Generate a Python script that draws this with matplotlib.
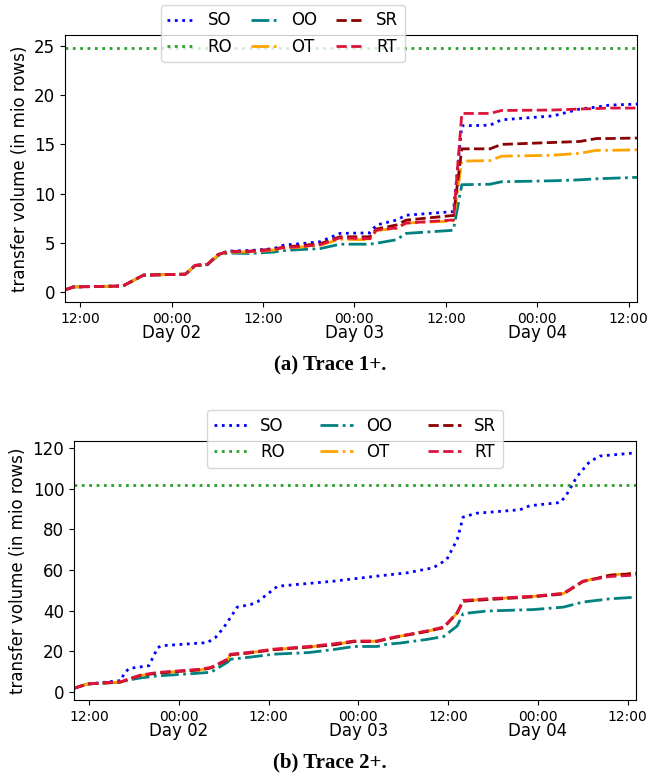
import numpy as np
import matplotlib
matplotlib.use("Agg")
import matplotlib.pyplot as plt
import matplotlib.dates as mdates

# hours since Day 01 00:00
hours_a = [10.0, 11.1, 17.6, 20.3, 25.8, 27.1, 28.7, 30.1, 31.4, 34.3, 37.4,
           38.7, 40.9, 43.5, 46.1, 50.0, 50.9, 53.5, 54.8, 60.7, 61.0, 62.1,
           65.8, 67.3, 74.1, 77.6, 79.8, 81.5, 85.1]
so_a = [0.2, 0.5, 0.6, 1.7, 1.8, 2.7, 2.8, 3.8, 4.15, 4.2, 4.4, 4.75, 4.9,
        5.1, 5.95, 6.0, 6.8, 7.3, 7.8, 8.15, 8.2, 16.9, 16.95, 17.5, 17.9,
        18.6, 18.8, 19.0, 19.1]
oo_a = [0.2, 0.5, 0.6, 1.7, 1.8, 2.65, 2.75, 3.7, 3.95, 3.9, 4.05, 4.2, 4.3,
        4.4, 4.85, 4.85, 4.95, 5.3, 5.95, 6.25, 6.3, 10.9, 10.95, 11.2, 11.3,
        11.4, 11.5, 11.55, 11.65]
ot_a = [0.2, 0.5, 0.6, 1.7, 1.8, 2.7, 2.8, 3.75, 4.05, 4.05, 4.25, 4.45,
        4.55, 4.75, 5.35, 5.3, 6.25, 6.45, 7.0, 7.2, 7.25, 13.3, 13.35, 13.8,
        13.9, 14.1, 14.4, 14.4, 14.45]
sr_a = [0.2, 0.5, 0.6, 1.7, 1.8, 2.7, 2.8, 3.8, 4.1, 4.15, 4.35, 4.55, 4.7,
        4.9, 5.6, 5.6, 6.4, 6.8, 7.3, 7.75, 7.75, 14.55, 14.55, 15.0, 15.2,
        15.3, 15.6, 15.6, 15.65]
rt_a = [0.2, 0.5, 0.6, 1.7, 1.8, 2.7, 2.8, 3.8, 4.1, 4.1, 4.3, 4.5, 4.6,
        4.8, 5.5, 5.4, 6.3, 6.5, 7.0, 7.3, 7.3, 18.15, 18.15, 18.45, 18.5,
        18.6, 18.65, 18.7, 18.7]
ro_a = 24.85

hours_b_so = [10.0, 11.8, 16.3, 16.7, 17.4, 20.0, 21.2, 21.8, 27.8, 28.9,
              30.0, 30.9, 31.8, 33.6, 34.5, 37.2, 41.4, 44.7, 50.5, 54.5,
              58.0, 59.8, 61.2, 62.0, 63.8, 69.6, 70.9, 75.0, 75.8, 77.2,
              78.9, 80.3, 85.1]
so_b = [1.7, 3.8, 5.5, 9.2, 11.5, 12.8, 21.8, 22.7, 24.2, 26.7, 31.6, 36.5,
        41.7, 43.0, 44.3, 52.0, 53.4, 54.5, 57.0, 58.6, 61.1, 65.1, 75.0,
        86.1, 88.0, 89.7, 91.7, 93.3, 97.0, 106.0, 113.4, 116.2, 117.8]
hours_b = [10.0, 11.8, 16.3, 17.2, 18.9, 21.2, 26.9, 28.3, 30.5, 30.9, 33.2,
           36.7, 41.4, 44.7, 47.4, 50.5, 51.8, 53.6, 57.2, 59.4, 61.2, 62.0,
           65.2, 71.4, 75.4, 78.0, 81.6, 85.1]
oo_b = [1.7, 3.8, 4.7, 5.7, 6.8, 7.8, 9.2, 9.6, 14.5, 16.0, 16.9, 18.5, 19.3,
        20.8, 22.3, 22.3, 23.4, 24.0, 25.8, 27.2, 32.4, 38.5, 39.8, 40.5,
        41.7, 44.2, 45.8, 46.6]
ot_b = [1.7, 3.8, 4.8, 6.0, 8.0, 9.2, 10.8, 11.7, 15.7, 18.2, 19.1, 20.8,
        22.1, 23.2, 24.8, 24.9, 26.0, 27.4, 29.8, 31.7, 38.8, 44.8, 45.6,
        47.0, 48.4, 54.4, 57.5, 58.6]
sr_b = [1.7, 3.8, 4.8, 6.0, 8.0, 9.2, 10.8, 11.7, 15.7, 18.2, 19.0, 20.7,
        22.0, 23.1, 24.7, 24.8, 25.9, 27.3, 29.7, 31.6, 38.8, 44.6, 45.4,
        46.8, 48.2, 54.3, 57.4, 58.3]
rt_b = [1.7, 3.8, 4.9, 6.2, 8.2, 9.5, 11.1, 12.0, 16.0, 18.5, 19.3, 21.0,
        22.3, 23.6, 25.0, 25.0, 26.2, 27.5, 30.0, 31.9, 39.0, 45.0, 45.8,
        47.1, 48.5, 54.5, 56.8, 57.5]
ro_b = 101.7

BASE = np.datetime64("2021-03-01T00:00")


def to_time(hours):
    mins = np.round(np.array(hours) * 60).astype(int)
    return BASE + mins * np.timedelta64(1, "m")


def style_axis(ax):
    ax.xaxis.set_major_locator(mdates.HourLocator(byhour=[0, 12]))
    ax.xaxis.set_major_formatter(mdates.DateFormatter("%H:%M"))
    ax.xaxis.set_minor_locator(mdates.DayLocator())
    ax.xaxis.set_minor_formatter(mdates.DateFormatter("Day %d"))
    ax.xaxis.remove_overlapping_locs = False
    ax.tick_params(axis="x", which="major", labelsize=10)
    ax.tick_params(axis="x", which="minor", length=0, pad=16, labelsize=12)
    ax.tick_params(axis="y", labelsize=12)
    ax.set_ylabel("transfer volume (in mio rows)", fontsize=12)


def draw(ax, t, t_so, so, oo, ot, sr, rt, ro):
    ax.plot(to_time(t_so), so, ":", color="blue", lw=2, label="SO")
    ax.plot(to_time([t[0], t[-1]]), [ro, ro], ":", color="tab:green", lw=2,
            label="RO")
    ax.plot(to_time(t), oo, "-.", color="teal", lw=2, label="OO")
    ax.plot(to_time(t), ot, "-.", color="orange", lw=2, label="OT")
    ax.plot(to_time(t), sr, "--", color="darkred", lw=2, label="SR")
    ax.plot(to_time(t), rt, "--", color="crimson", lw=2, label="RT")
    ax.set_xlim(to_time(t[0]), to_time(t[-1]))
    style_axis(ax)


fig = plt.figure(figsize=(6.47, 7.76), dpi=100)
ax1 = fig.add_axes([0.1005, 0.6108, 0.884, 0.3435])
ax2 = fig.add_axes([0.1144, 0.0979, 0.8686, 0.3338])

draw(ax1, hours_a, hours_a, so_a, oo_a, ot_a, sr_a, rt_a, ro_a)
draw(ax2, hours_b, hours_b_so, so_b, oo_b, ot_b, sr_b, rt_b, ro_b)

ax1.legend(loc="upper center", bbox_to_anchor=(0.381, 1.115), ncol=3,
           fontsize=12, handlelength=1.6, columnspacing=1.15,
           borderaxespad=0)
ax2.legend(loc="upper center", bbox_to_anchor=(0.5, 1.12), ncol=3,
           fontsize=12, handlelength=2.0, columnspacing=2.1,
           borderaxespad=0)

fig.text(0.51, 1 - 365 / 776, "(a) Trace 1+.", ha="center", va="center",
         fontsize=15, fontweight="bold", family="Liberation Serif")
fig.text(0.51, 1 - 762 / 776, "(b) Trace 2+.", ha="center", va="center",
         fontsize=15, fontweight="bold", family="Liberation Serif")

fig.savefig("out.png", dpi=100)
